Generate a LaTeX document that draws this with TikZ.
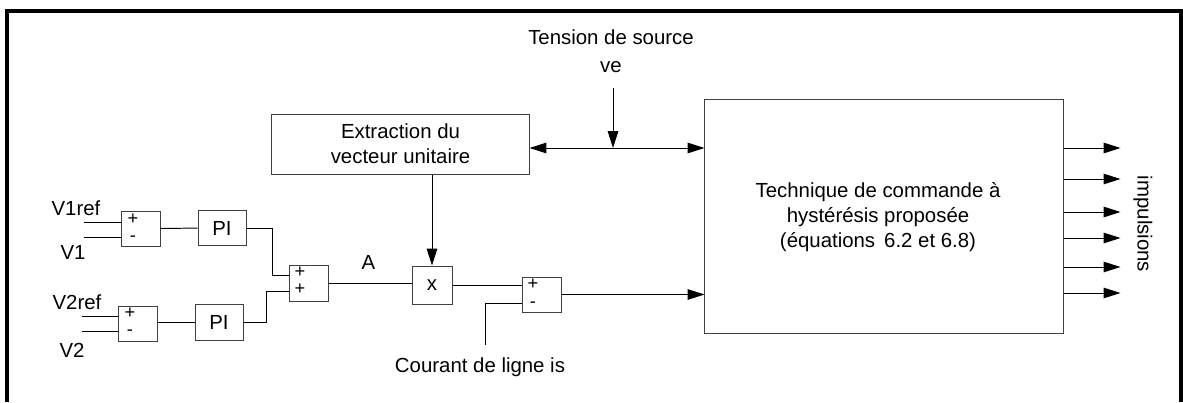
\documentclass[tikz,border=0pt]{standalone}
\usepackage{fontspec}
\setmainfont{Liberation Sans}
\usetikzlibrary{arrows.meta,positioning,calc}

\tikzset{
  blk/.style={draw=black!75, line width=0.7pt, inner sep=0pt, align=center,
              font=\fontsize{14.5}{18}\selectfont},
  sumblk/.style={blk, minimum width=0.975cm, minimum height=0.875cm},
  piblk/.style={blk, minimum width=1.2cm, minimum height=0.87cm},
  lbl/.style={inner sep=0pt, align=center, font=\fontsize{14.5}{18}\selectfont},
  sgn/.style={inner sep=0pt, text height=5pt, text depth=0pt,
              font=\fontsize{13}{13}\selectfont},
  wire/.style={line width=0.7pt},
  tip/.tip={Triangle[length=12pt,width=7.5pt]},
  flow/.style={wire, -tip},
  flowtwo/.style={wire, tip-tip},
}

\begin{document}
\begin{tikzpicture}[x=0.025cm, y=-0.025cm]
    \useasboundingbox (0,0) rectangle (1183,402);
    % Frame (open at the bottom)
    \draw[line width=2.2pt] (7,402) -- (7,11) -- (1181,11) -- (1181,402);

    % Voltage loops
    \node[sumblk] (s1) at (140.5,228.5) {};
    \node[sgn] (s1a) at (133,220.5) {+};
    \node[sgn] (s1b) at (133,238) {-};
    \node[piblk] (pi1) at (222,228) {PI};
    \node[sumblk] (s3) at (137.5,323.5) {};
    \node[sgn] (s3a) at (130,314.5) {+};
    \node[sgn] (s3b) at (130,332) {-};
    \node[piblk, minimum height=0.9cm] (pi2) at (219,322) {PI};
    \node[sumblk, minimum height=0.9cm] (s2) at (308.5,283) {};
    \node[sgn] (s2a) at (300,274) {+};
    \node[sgn] (s2b) at (300,291) {+};

    \node[lbl] (v1r) at (76,208) {V1ref};
    \node[lbl] (v1) at (73,252) {V1};
    \node[lbl] (v2r) at (77,302) {V2ref};
    \node[lbl] (v2) at (72,350) {V2};
    \coordinate (in1) at (84,222);
    \coordinate (in2) at (84,237);
    \coordinate (in3) at (82,316);
    \coordinate (in4) at (82,331);
    \draw[wire] (in1) -- (in1 -| s1.west);
    \draw[wire] (in2) -- (in2 -| s1.west);
    \draw[wire] (in3) -- (in3 -| s3.west);
    \draw[wire] (in4) -- (in4 -| s3.west);
    \draw[wire] (s1) -- (pi1);
    \draw[wire] (s3.east |- pi2.west) -- (pi2.west);
    \draw[wire] (pi1.east) -- ++(26,0) |- ($(s2.west)+(0,-8)$);
    \draw[wire] (pi2.east) -- ++(23,0) |- ($(s2.west)+(0,8)$);

    % Unit vector and multiplier
    \node[blk, minimum width=6.425cm, minimum height=1.5cm] (ext) at (400.5,144)
        {Extraction du\\vecteur unitaire};
    \node[blk, minimum width=1cm, minimum height=0.95cm] (mul) at (432,285) {x};
    \draw[wire] (s2.east) -- (mul.west |- s2.east) node[lbl, pos=0.48, above=9pt] (la) {A};
    \draw[flow] (ext.south -| mul.north) -- (mul.north);

    % Current comparison
    \node[sumblk] (s4) at (541.5,294.5) {};
    \node[sgn] (s4a) at (533,286) {+};
    \node[sgn] (s4b) at (533,304) {-};
    \draw[wire] (mul.east) -- (mul.east -| s4.west);
    \coordinate (is) at (485,345);
    \draw[wire] (is) |- ($(s4.west)+(0,9)$);
    \node[lbl] (cour) at (480,367) {Courant de ligne is};

    % Hysteresis control block
    \node[blk, minimum width=8.95cm, minimum height=5.825cm] (tech) at (884,216.5) {};
    \node[lbl] (techtxt) at (878,217)
        {Technique de commande à\\hystérésis proposée\\(équations\, 6.2 et 6.8)};
    \draw[flow] (s4.east) -- (s4.east -| tech.west);

    % Source voltage
    \node[lbl, font=\fontsize{14.5}{20}\selectfont] (tens) at (611,51)
        {Tension de source\\ve};
    \coordinate (ve) at (613,88);
    \coordinate (bus) at (613,148);
    \draw[flowtwo] (bus -| ext.east) -- (bus -| tech.west);
    \draw[flow] (ve) -- (bus);

    % Switching pulses
    \foreach \yy in {148,179,212,238,267,293} {
        \coordinate (o) at (0,\yy);
        \draw[flow] (tech.east |- o) -- ++(57,0);
    }
    \node[lbl, rotate=-90] (imp) at (1143,224) {impulsions};
\end{tikzpicture}
\end{document}
